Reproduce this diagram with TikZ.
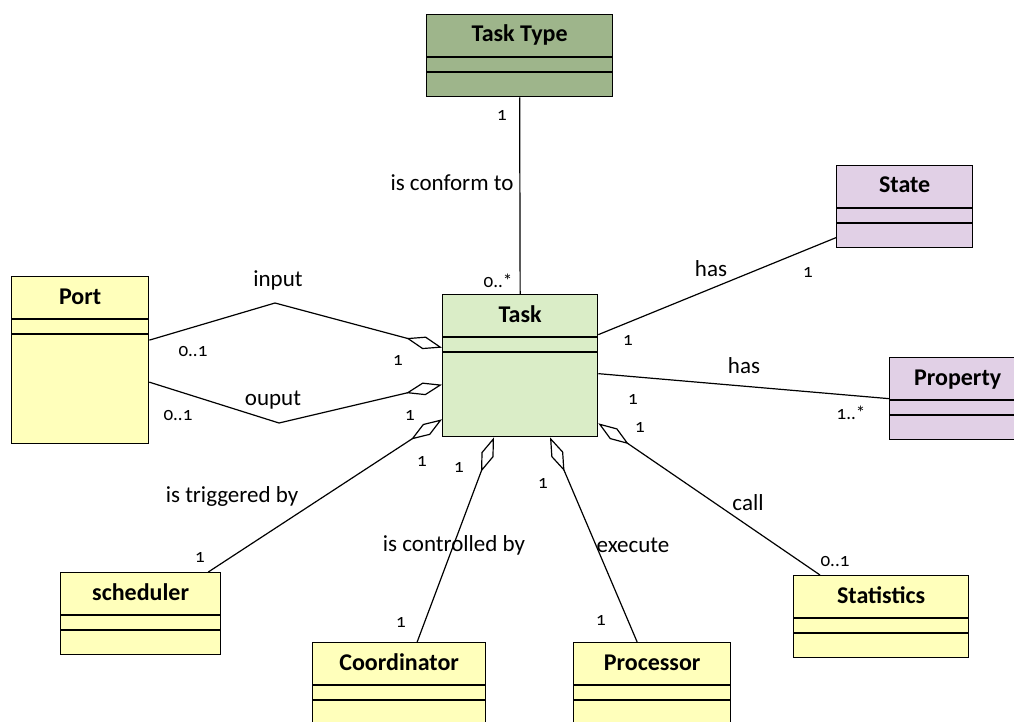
\documentclass[tikz,border=0pt]{standalone}
\usepackage{fontspec}
\setmainfont{Carlito}
\newfontfamily\multfont[Numbers=OldStyle]{Carlito}
\usepackage{tikz}
\usetikzlibrary{calc, arrows.meta}
\usetikzlibrary{positioning}
\definecolor{typegreen}{RGB}{158,181,139}
\definecolor{taskgreen}{RGB}{218,237,199}
\definecolor{statelilac}{RGB}{225,208,230}
\definecolor{classyellow}{RGB}{255,255,187}
\tikzset{
    umlbox/.style={draw, line width=1.3pt, anchor=north west, inner sep=0pt},
    umltitle/.style={font=\fontsize{24}{28}\selectfont\bfseries, inner sep=0pt, anchor=base},
    assoc/.style={font=\fontsize{23}{27}\selectfont, inner sep=0pt},
    mult/.style={font=\fontsize{19}{22}\selectfont\multfont, inner sep=0pt},
    link/.style={line width=1.2pt},
    aggr/.style={link, {Diamond[open, length=37pt, width=13pt]}-},
}
\NewDocumentCommand{\umlclass}{%
    O{classyellow}  % fill colour
    m               % node name
    m               % north west corner
    mm              % width and height
    m               % class name
    }{%
    \node[umlbox, fill=#1, minimum width=#4, minimum height=#5] (#2) at (#3) {};
    \node[umltitle] (#2-title) at ($(#2.north)+(0,28)$) {#6};
    \draw[line width=1.3pt] ($(#2.north west)+(0,43)$) -- ($(#2.north east)+(0,43)$);
    \draw[line width=1.3pt] ($(#2.north west)+(0,58)$) -- ($(#2.north east)+(0,58)$);
}
\begin{document}
\begin{tikzpicture}[x=1pt, y=-1pt]
    \useasboundingbox[fill=white] (0,0) rectangle (1014,722);
    % classes
    \umlclass[typegreen]{tasktype}{426,14}{186pt}{82pt}{Task Type}
    \umlclass[statelilac]{state}{836,165}{136pt}{82pt}{State}
    \umlclass[statelilac]{property}{889,357}{136pt}{82pt}{Property}
    \umlclass{port}{11,276}{137pt}{167pt}{Port}
    \umlclass[taskgreen]{task}{442,294}{155pt}{142pt}{Task}
    \umlclass{scheduler}{60,572}{160pt}{82pt}{scheduler}
    \umlclass{coordinator}{312,642}{173pt}{82pt}{Coordinator}
    \umlclass{processor}{573,642}{157pt}{82pt}{Processor}
    \umlclass{statistics}{793,575}{175pt}{82pt}{Statistics}

    % plain associations
    \draw[link] (tasktype.south) -- (task.north);
    \draw[link] ($(state.west)+(0,31)$) -- ($(task.east)+(0,-31)$);
    \draw[link] (property.west) -- ($(task.east)+(0,8)$);

    % aggregations
    \coordinate (inbend) at (275,303);
    \coordinate (outbend) at (279,423);
    \draw[aggr] ($(task.west)+(0,-18)$) -- (inbend) -- ($(port.east)+(0,-20)$);
    \draw[aggr] ($(task.west)+(0,19)$) -- (outbend) -- ($(port.east)+(0,22)$);
    \draw[aggr] ($(task.south west)+(0,-18)$) -- ($(scheduler.north east)+(-13,0)$);
    \draw[aggr] ($(task.south west)+(52,0)$) -- ($(coordinator.north)+(18,0)$);
    \draw[aggr] ($(task.south west)+(108,0)$) -- ($(processor.north)+(-15,0)$);
    \draw[aggr] ($(task.south east)+(0,-14)$) -- ($(statistics.north west)+(27,0)$);

    % association names
    \node[assoc] (conformlbl) at (452,183) {is conform to};
    \node[assoc] (statelbl) at (711,269) {has};
    \node[assoc] (proplbl) at (744,366) {has};
    \node[assoc] (inputlbl) at (278,280) {input};
    \node[assoc] (outputlbl) at (273,400) {ouput};
    \node[assoc] (triggerlbl) at (232,496) {is triggered by};
    \node[assoc] (controllbl) at (454,545) {is controlled by};
    \node[assoc] (executelbl) at (633,545) {execute};
    \node[assoc] (calllbl) at (748,503) {call};

    % multiplicities
    \node[mult] (m1) at (502,115) {1};
    \node[mult] (m2) at (498,281) {0..*};
    \node[mult] (m3) at (808,272) {1};
    \node[mult] (m4) at (628,340) {1};
    \node[mult] (m5) at (851,413) {1..*};
    \node[mult] (m6) at (633,399) {1};
    \node[mult] (m7) at (193,352) {0..1};
    \node[mult] (m8) at (398,360) {1};
    \node[mult] (m9) at (178,416) {0..1};
    \node[mult] (m10) at (410,415) {1};
    \node[mult] (m11) at (422,461) {1};
    \node[mult] (m12) at (200,557) {1};
    \node[mult] (m13) at (459,467) {1};
    \node[mult] (m14) at (401,622) {1};
    \node[mult] (m15) at (543,483) {1};
    \node[mult] (m16) at (601,620) {1};
    \node[mult] (m17) at (640,427) {1};
    \node[mult] (m18) at (835,562) {0..1};
\end{tikzpicture}
\end{document}
